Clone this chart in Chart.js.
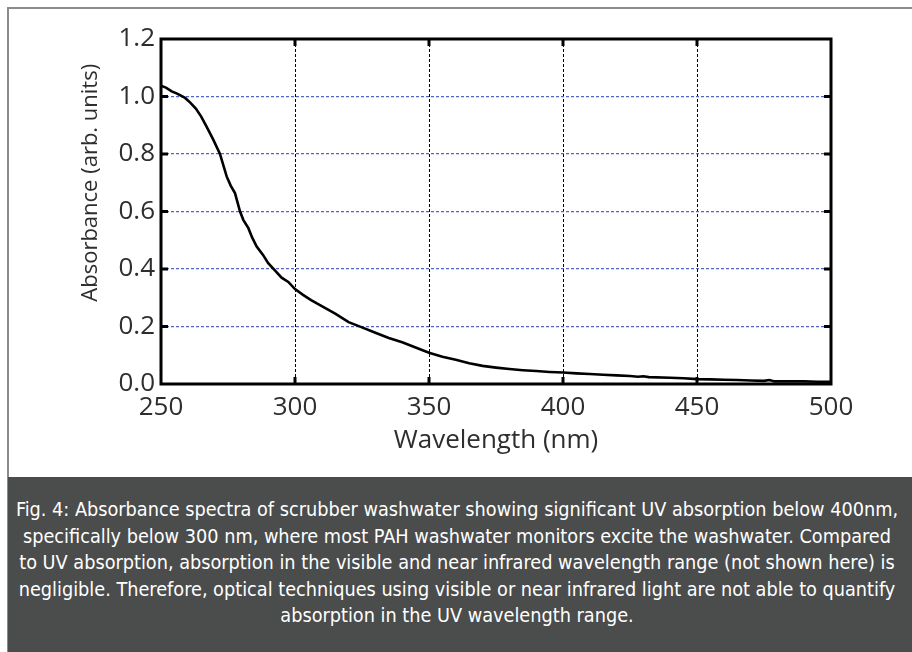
<!DOCTYPE html>
<html>
<head>
<meta charset="utf-8">
<script src="https://cdn.jsdelivr.net/npm/chart.js@4/dist/chart.umd.min.js"></script>
<style>
  html, body { margin: 0; padding: 0; background: #ffffff; }
  #page { position: relative; width: 912px; height: 652px; overflow: hidden; }
  #frame {
    position: absolute; left: 7px; top: 7px; width: 910px; height: 660px;
    border-left: 2px solid #8c8c8c; border-top: 2px solid #8c8c8c;
  }
  #chartBox { position: absolute; left: 0; top: 0; width: 912px; height: 477px; }
  #caption {
    position: absolute; left: 8px; top: 477px; width: 904px; height: 175px;
    background: #4b4c4c; color: #ffffff;
    font-family: 'DejaVu Sans Condensed', 'Liberation Sans Narrow', sans-serif;
    font-size: 19.7px; line-height: 26.5px; text-align: center;
    white-space: nowrap;
    box-sizing: border-box; padding: 20px 6px 0 0;
  }
</style>
</head>
<body>
<div id="page">
  <div id="frame"></div>
  <div id="chartBox"><canvas id="absChart" width="912" height="477"></canvas></div>
  <div id="caption">Fig. 4: Absorbance spectra of scrubber washwater showing significant UV absorption below 400nm,<br>specifically below 300 nm, where most PAH washwater monitors excite the washwater. Compared<br>to UV absorption, absorption in the visible and near infrared wavelength range (not shown here) is<br>negligible. Therefore, optical techniques using visible or near infrared light are not able to quantify<br>absorption in the UV wavelength range.</div>
</div>
<script>
const xTitle = 'Wavelength (nm)';
const yTitle = 'Absorbance (arb. units)';

const xTicks = [250, 300, 350, 400, 450, 500];
const yTicks = [0.0, 0.2, 0.4, 0.6, 0.8, 1.0, 1.2];

const wavelength = [
    250, 252, 254, 256, 259, 261, 263, 265, 267, 269.5,
    272, 274.5, 276, 277.6, 279.5, 280.7, 282.6, 284, 285.7, 288,
    290, 292.5, 295, 297.5, 300, 303, 306, 308, 311, 315,
    320, 325, 330, 335, 340, 345, 350, 355, 360, 365,
    370, 375, 380, 385, 390, 395, 400, 405, 410, 415,
    420, 425, 428, 430, 432, 440, 445, 450, 455, 460,
    465, 470, 475, 477, 479, 485, 490, 495, 500
];
const absorbance = [
    1.038, 1.030, 1.018, 1.010, 0.995, 0.978, 0.958, 0.930, 0.895, 0.850,
    0.800, 0.722, 0.690, 0.664, 0.600, 0.571, 0.542, 0.510, 0.478, 0.450,
    0.420, 0.395, 0.370, 0.355, 0.330, 0.310, 0.292, 0.281, 0.266, 0.245,
    0.215, 0.197, 0.178, 0.160, 0.145, 0.127, 0.109, 0.095, 0.084, 0.072,
    0.063, 0.057, 0.052, 0.048, 0.045, 0.042, 0.040, 0.037, 0.035, 0.032,
    0.030, 0.028, 0.025, 0.027, 0.024, 0.022, 0.020, 0.017, 0.016, 0.015,
    0.014, 0.012, 0.011, 0.014, 0.009, 0.009, 0.009, 0.008, 0.008
];

const textColor = '#2e2e2e';
const gridBlue = '#5366c6';

// thick box round the plot with short ticks pointing inwards,
// and the y title, which sits above the middle of the axis
const framePlugin = {
    id: 'frame',
    afterDatasetsDraw(chart) {
        const {ctx, chartArea, scales} = chart;
        const {left, right, top, bottom} = chartArea;
        const len = 7;
        ctx.save();
        ctx.setLineDash([]);
        ctx.strokeStyle = '#000000';
        ctx.lineWidth = 3;
        ctx.beginPath();
        for (let v of xTicks.slice(1, -1)) {
            const px = scales.x.getPixelForValue(v);
            ctx.moveTo(px, bottom); ctx.lineTo(px, bottom - len);
            ctx.moveTo(px, top); ctx.lineTo(px, top + len);
        }
        for (let v of yTicks.slice(1, -1)) {
            const py = scales.y.getPixelForValue(v);
            ctx.moveTo(left, py); ctx.lineTo(left + len, py);
            ctx.moveTo(right, py); ctx.lineTo(right - len, py);
        }
        ctx.stroke();
        ctx.strokeRect(left, top, right - left, bottom - top);

        ctx.translate(91, scales.y.getPixelForValue(0.70));
        ctx.rotate(-Math.PI / 2);
        ctx.fillStyle = textColor;
        ctx.font = '22px "Open Sans"';
        ctx.textAlign = 'center';
        ctx.textBaseline = 'middle';
        ctx.fillText(yTitle, 0, 0);
        ctx.restore();
    }
};

const points = wavelength.map((w, i) => ({x: w, y: absorbance[i]}));

new Chart(document.getElementById('absChart').getContext('2d'), {
    type: 'line',
    data: {
        datasets: [{
            data: points,
            borderColor: '#000000',
            borderWidth: 2.6,
            pointRadius: 0,
            tension: 0,
            fill: false
        }]
    },
    options: {
        responsive: false,
        animation: false,
        layout: {
            padding: {left: 0, right: 81, top: 39, bottom: 0}
        },
        scales: {
            x: {
                type: 'linear',
                min: 250,
                max: 500,
                afterFit: (scale) => { scale.height = 93; },
                afterBuildTicks: (scale) => { scale.ticks = xTicks.map(v => ({value: v})); },
                ticks: {
                    color: textColor,
                    padding: 8,
                    maxRotation: 0,
                    font: {family: 'Open Sans', size: 26}
                },
                grid: {
                    color: '#000000',
                    lineWidth: 1,
                    drawTicks: false
                },
                border: {display: false, dash: [3, 2]},
                title: {
                    display: true,
                    text: xTitle,
                    color: textColor,
                    font: {family: 'Open Sans', size: 26},
                    padding: {top: 0, bottom: 21}
                }
            },
            y: {
                min: 0,
                max: 1.2,
                afterFit: (scale) => { scale.width = 161; },
                afterBuildTicks: (scale) => { scale.ticks = yTicks.map(v => ({value: v})); },
                ticks: {
                    color: textColor,
                    padding: 6,
                    font: {family: 'Open Sans', size: 26},
                    callback: (v) => Number(v).toFixed(1)
                },
                grid: {
                    color: gridBlue,
                    lineWidth: 1.2,
                    drawTicks: false
                },
                border: {display: false, dash: [3, 2]}
            }
        },
        plugins: {
            legend: {display: false},
            tooltip: {enabled: false}
        }
    },
    plugins: [framePlugin]
});
</script>
</body>
</html>
